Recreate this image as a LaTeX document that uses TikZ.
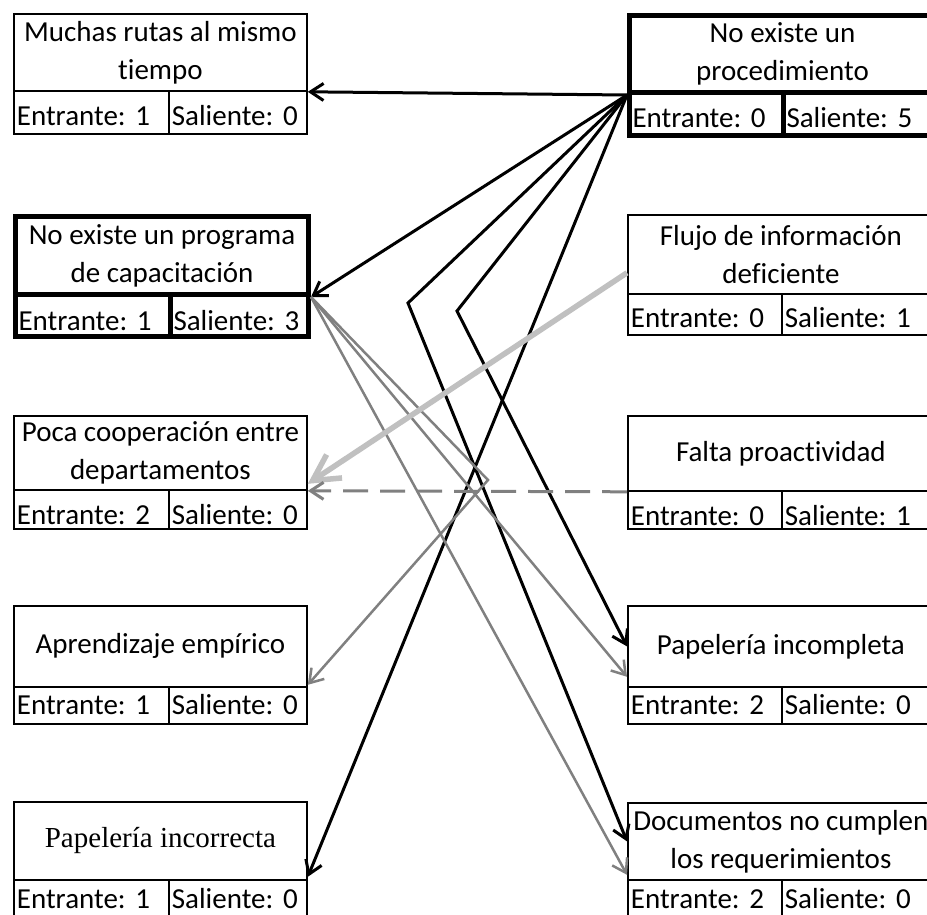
\documentclass[tikz,border=0pt]{standalone}
\usepackage{fontspec}
\setmainfont{Carlito}[Ligatures=NoCommon]
\newfontfamily\timesfont{Liberation Serif}
\usetikzlibrary{arrows.meta}
\definecolor{linkgray}{HTML}{808080}
\definecolor{paleline}{HTML}{C0C0C0}
\frenchspacing
\begin{document}
\begin{tikzpicture}[x=1pt,y=-1pt,
  cell/.style={draw, inner sep=0pt, anchor=north west, line width=1.8pt,
               font=\fontsize{29}{38}\selectfont},
  upper/.style={cell, align=center},
  lower/.style={cell, align=left, inner xsep=3pt, inner ysep=0pt},
  heavy/.style={line width=5pt},
  linkarrow/.style={-{Straight Barb[length=13pt,width=17pt]}},
  strong/.style={linkarrow, line width=3pt, black},
  soft/.style={linkarrow, line width=2.5pt, linkgray},
  pale/.style={-{Straight Barb[length=26pt,width=28pt]}, line width=5.5pt, paleline},
  dashlink/.style={linkarrow, line width=3pt, linkgray, dash pattern=on 25pt off 12pt}]
\clip (0,0) rectangle (927,915);
\fill[white] (0,0) rectangle (927,915);

% left column
\node[upper, minimum width=293pt, minimum height=77pt] (muchas) at (13,13) {Muchas rutas al mismo\\tiempo};
\node[lower, text width=149pt, text height=35pt, text depth=8pt] (muchasE) at (13,90) {Entrante: 1};
\node[lower, text width=132pt, text height=35pt, text depth=8pt] (muchasS) at (168,90) {Saliente: 0};

\node[upper, heavy, minimum width=293pt, minimum height=78pt] (prog) at (13,214) {No existe un programa\\de capacitación};
\node[lower, heavy, text width=149pt, text height=36pt, text depth=6pt] (progE) at (13,292) {Entrante: 1};
\node[lower, heavy, text width=132pt, text height=36pt, text depth=6pt] (progS) at (168,292) {Saliente: 3};

\node[upper, minimum width=293pt, minimum height=74pt] (poca) at (13,415) {Poca cooperación entre\\departamentos};
\node[lower, text width=149pt, text height=35pt, text depth=4pt] (pocaE) at (13,489) {Entrante: 2};
\node[lower, text width=132pt, text height=35pt, text depth=4pt] (pocaS) at (168,489) {Saliente: 0};

\node[upper, minimum width=293pt, minimum height=81pt] (aprend) at (13,605) {Aprendizaje empírico};
\node[lower, text width=149pt, text height=28pt, text depth=9pt] (aprendE) at (13,686) {Entrante: 1};
\node[lower, text width=132pt, text height=28pt, text depth=9pt] (aprendS) at (168,686) {Saliente: 0};

\node[upper, minimum width=293pt, minimum height=78pt, font=\timesfont\fontsize{29}{38}\selectfont] (pincorr) at (13,801) {Papelería incorrecta};
\node[lower, text width=149pt, text height=29pt, text depth=13pt] (pincorrE) at (13,879) {Entrante: 1};
\node[lower, text width=132pt, text height=29pt, text depth=13pt] (pincorrS) at (168,879) {Saliente: 0};

% right column
\node[upper, heavy, minimum width=306pt, minimum height=77pt] (proc) at (627,13) {No existe un\\procedimiento};
\node[lower, heavy, text width=148pt, text height=35pt, text depth=8pt] (procE) at (627,90) {Entrante: 0};
\node[lower, heavy, text width=146pt, text height=35pt, text depth=8pt] (procS) at (781,90) {Saliente: 5};

\node[upper, minimum width=306pt, minimum height=79pt] (flujo) at (627,214) {Flujo de información\\deficiente};
\node[lower, text width=148pt, text height=34pt, text depth=7pt] (flujoE) at (627,293) {Entrante: 0};
\node[lower, text width=146pt, text height=34pt, text depth=7pt] (flujoS) at (781,293) {Saliente: 1};

\node[upper, minimum width=306pt, minimum height=75pt] (falta) at (627,415) {Falta proactividad};
\node[lower, text width=148pt, text height=35pt, text depth=3pt] (faltaE) at (627,490) {Entrante: 0};
\node[lower, text width=146pt, text height=35pt, text depth=3pt] (faltaS) at (781,490) {Saliente: 1};

\node[upper, minimum width=306pt, minimum height=81pt] (pinc) at (627,605) {Papelería incompleta};
\node[lower, text width=148pt, text height=28pt, text depth=9pt] (pincE) at (627,686) {Entrante: 2};
\node[lower, text width=146pt, text height=28pt, text depth=9pt] (pincS) at (781,686) {Saliente: 0};

\node[upper, minimum width=306pt, minimum height=77pt] (docs) at (627,802) {Documentos no cumplen\\los requerimientos};
\node[lower, text width=148pt, text height=29pt, text depth=13pt] (docsE) at (627,879) {Entrante: 2};
\node[lower, text width=146pt, text height=29pt, text depth=13pt] (docsS) at (781,879) {Saliente: 0};

% bend points of the crossing links
\coordinate (bendA) at (408,303);
\coordinate (bendB) at (457,311);
\coordinate (bendC) at (488,480);

% links leaving "No existe un procedimiento"
\draw[strong] (proc.south west) -- (muchas.south east);
\draw[strong] (proc.south west) -- (prog.south east);
\draw[strong] (proc.south west) -- (bendA) -- (docs.west);
\draw[strong] (proc.south west) -- (bendB) -- (pinc.west);
\draw[strong] (proc.south west) -- ([yshift=4pt]pincorr.south east);

% links leaving "No existe un programa de capacitación"
\draw[soft] (prog.south east) -- ([yshift=11pt]pinc.south west);
\draw[soft] (prog.south east) -- ([yshift=6pt]docs.south west);
\draw[soft] (prog.south east) -- (bendC) -- ([yshift=3pt]aprend.south east);

% links into "Poca cooperación entre departamentos"
\draw[pale] ([yshift=22pt]flujo.south west) -- ([yshift=7pt]poca.south east);
\draw[dashlink] (falta.south west) -- (poca.south east);
\end{tikzpicture}
\end{document}
